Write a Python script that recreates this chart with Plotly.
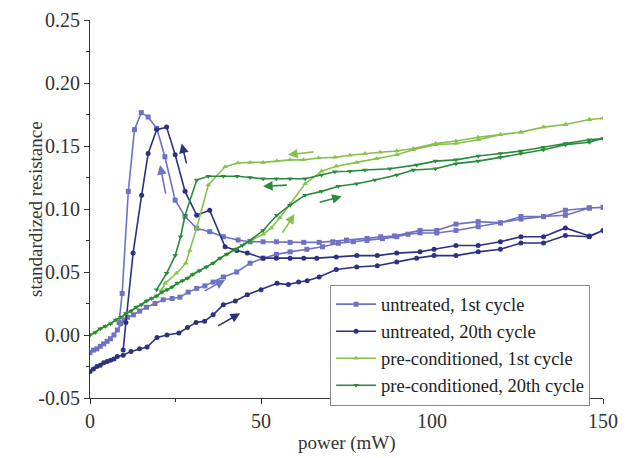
import plotly.graph_objects as go

# ---- untreated, 1st cycle: heating branch then cooling branch ----
u1_power = [0, 1, 2, 3, 4, 5, 6, 7, 8, 9, 10, 11, 12.7, 14.5, 16.5, 19, 21.4, 24, 26.3,
            28.7, 31.2, 33.6, 36, 39, 42.9, 46.8, 50.6, 54.5, 58.5, 63.4, 68, 72.6, 77,
            81, 85.5, 89.7, 93, 96.5, 101.4, 107, 113.5, 120, 126, 132.6, 139, 146, 150,
            146, 139, 132.6, 126, 120, 113.5, 107, 101.4, 96.5, 89, 85, 81, 75, 71, 67,
            62.5, 58.5, 54.5, 50.6, 46.8, 43.3, 39, 35, 31.2, 27.8, 24.9, 21.9, 19.5, 17,
            15, 13, 11.2, 9.4, 8.5]
u1_value = [-0.014, -0.012, -0.011, -0.009, -0.007, -0.005, -0.003, 0.000, 0.004, 0.009,
            0.012, 0.014, 0.016, 0.019, 0.022, 0.025, 0.028, 0.029, 0.030, 0.034, 0.037,
            0.039, 0.042, 0.046, 0.050, 0.057, 0.061, 0.064, 0.066, 0.068, 0.070, 0.0728,
            0.074, 0.075, 0.0765, 0.078, 0.080, 0.081, 0.081, 0.083, 0.086, 0.089, 0.092,
            0.094, 0.095, 0.1008, 0.1013,
            0.1008, 0.099, 0.094, 0.094, 0.089, 0.090, 0.088, 0.083, 0.083, 0.0786, 0.078,
            0.0767, 0.0754, 0.074, 0.0735, 0.0735, 0.0735, 0.074, 0.074, 0.074, 0.0754,
            0.078, 0.082, 0.0847, 0.094, 0.107, 0.1415, 0.164, 0.173, 0.1765, 0.163,
            0.114, 0.033, 0.010]

# ---- untreated, 20th cycle ----
u20_power = [0, 1, 2, 3, 4, 5, 6, 7, 8, 9.7, 12, 14.5, 16.7, 19.6, 22.5, 26, 28.5, 31,
             33.5, 36, 39, 42.5, 46, 50, 54.7, 58, 61, 63.5, 67, 72, 78, 84, 89.7, 95.5,
             100.6, 107, 113.5, 120, 126, 132.6, 139, 146, 150,
             146, 139, 132.6, 126, 120, 113.5, 107, 100.6, 96.5, 89.7, 84, 78, 72, 66.3,
             62.5, 58.5, 54.5, 50.6, 46, 42.9, 39.5, 35, 31.2, 27.8, 24.9, 22.4, 19.5, 17,
             15.1, 12.6, 10.5, 9.7]
u20_value = [-0.029, -0.027, -0.025, -0.024, -0.022, -0.021, -0.020, -0.019, -0.017,
             -0.016, -0.013, -0.011, -0.0095, -0.002, 0.000, 0.0016, 0.006, 0.010, 0.011,
             0.016, 0.024, 0.027, 0.032, 0.036, 0.041, 0.040, 0.042, 0.043, 0.046, 0.052,
             0.054, 0.055, 0.058, 0.061, 0.063, 0.063, 0.066, 0.068, 0.073, 0.073, 0.079,
             0.078, 0.083,
             0.0786, 0.085, 0.078, 0.078, 0.074, 0.071, 0.071, 0.068, 0.066, 0.065, 0.063,
             0.063, 0.062, 0.061, 0.061, 0.061, 0.061, 0.061, 0.065, 0.067, 0.070, 0.099,
             0.095, 0.114, 0.143, 0.165, 0.163, 0.144, 0.111, 0.065, 0.010, -0.012]

# ---- pre-conditioned, 1st cycle ----
p1_power = [0, 1.5, 3, 4.5, 6, 7.5, 9, 10.5, 12, 13.5, 15, 16.5, 18, 19.5, 21, 22.5, 24,
            25.5, 27, 28.5, 30, 32, 34, 36, 38, 40, 42.5, 45, 47.5, 50.7, 53, 55.5, 58.5,
            62.9, 67.7, 72, 78, 83.8, 89.7, 94.5, 101, 107, 113.5, 120, 126, 132.6, 139,
            146, 150,
            146, 139, 132.6, 126, 120, 113.5, 107, 101, 94.5, 89.7, 84.8, 80.4, 76, 71.6,
            66.8, 62.4, 58.5, 54.6, 50.6, 46.8, 43.3, 39.5, 34.6, 31.2, 29.2, 28, 25.3,
            22, 21]
p1_value = [0.000, 0.002, 0.005, 0.007, 0.009, 0.012, 0.014, 0.017, 0.019, 0.022, 0.024,
            0.027, 0.029, 0.031, 0.034, 0.036, 0.038, 0.041, 0.043, 0.045, 0.048, 0.051,
            0.054, 0.057, 0.061, 0.064, 0.068, 0.072, 0.076, 0.080, 0.085, 0.093, 0.104,
            0.120, 0.130, 0.134, 0.137, 0.140, 0.143, 0.147, 0.151, 0.152, 0.155, 0.159,
            0.161, 0.165, 0.167, 0.171, 0.172,
            0.171, 0.167, 0.165, 0.161, 0.159, 0.157, 0.154, 0.152, 0.148, 0.146, 0.145,
            0.144, 0.1426, 0.141, 0.1405, 0.139, 0.139, 0.138, 0.137, 0.137, 0.1365,
            0.1336, 0.119, 0.085, 0.067, 0.057, 0.049, 0.041, 0.036]

# ---- pre-conditioned, 20th cycle ----
p20_power = [0, 1.5, 3, 4.5, 6, 7.5, 9, 10.5, 12, 13.5, 15, 16.5, 18, 19.5, 21, 22.5, 24,
             25.5, 27, 28.5, 30, 32, 34, 36, 38, 40, 42.5, 44.5, 46.8, 50.6, 54.6, 58.5,
             62.9, 67.7, 72.6, 78, 83.3, 89.7, 94.5, 101, 107, 113.5, 120, 126, 132.6,
             139, 146, 150,
             146, 139, 132.6, 126, 120, 113.5, 107, 101, 95.5, 87.7, 80.4, 76, 71.6, 67.7,
             62.9, 58.5, 54.5, 50.6, 46.8, 43, 39, 34.6, 31.2, 27.8, 26.5, 24.9, 22.4,
             19.5]
p20_value = [0.000, 0.002, 0.005, 0.007, 0.009, 0.012, 0.014, 0.017, 0.019, 0.022, 0.024,
             0.027, 0.029, 0.031, 0.034, 0.036, 0.038, 0.041, 0.043, 0.045, 0.048, 0.051,
             0.054, 0.057, 0.061, 0.064, 0.068, 0.071, 0.075, 0.083, 0.095, 0.103, 0.111,
             0.114, 0.118, 0.120, 0.123, 0.127, 0.131, 0.132, 0.136, 0.138, 0.141, 0.144,
             0.147, 0.151, 0.153, 0.156,
             0.155, 0.152, 0.149, 0.146, 0.144, 0.142, 0.139, 0.138, 0.135, 0.132, 0.131,
             0.130, 0.1296, 0.127, 0.124, 0.124, 0.124, 0.124, 0.125, 0.126, 0.126, 0.126,
             0.123, 0.095, 0.078, 0.063, 0.049, 0.036]

names = ["untreated, 1st cycle", "untreated, 20th cycle",
         "pre-conditioned, 1st cycle", "pre-conditioned, 20th cycle"]
colors = ["#6f72c4", "#2c3180", "#86c24a", "#2a8a3c"]
symbols = ["square", "circle", "triangle-up", "triangle-down"]
series = [(u1_power, u1_value), (u20_power, u20_value),
          (p1_power, p1_value), (p20_power, p20_value)]

# axis ticks (plain hyphen for the negative label)
y_ticks = [-0.05, 0.00, 0.05, 0.10, 0.15, 0.20, 0.25]
y_ticktext = ["-0.05", "0.00", "0.05", "0.10", "0.15", "0.20", "0.25"]
x_ticks = [0, 50, 100, 150]

# direction arrows: (tail power, tail value, head power, head value, colour index)
arrows = [
    (22.2, 0.111, 20.5, 0.135, 0),
    (28.3, 0.135, 26.8, 0.152, 1),
    (65.8, 0.1455, 57.9, 0.143, 2),
    (58.0, 0.119, 50.6, 0.118, 3),
    (66.7, 0.105, 73.6, 0.110, 3),
    (56.0, 0.080, 59.8, 0.096, 2),
    (33.1, 0.0344, 39.5, 0.0437, 0),
    (37.0, 0.0066, 43.9, 0.0172, 1),
]

FONT = "Liberation Serif"
INK = "#333333"

fig = go.Figure()
for (px, pv), name, col, sym in zip(series, names, colors, symbols):
    fig.add_trace(go.Scatter(
        x=px, y=pv, name=name, mode="lines+markers",
        line=dict(color=col, width=1.6),
        marker=dict(color=col, symbol=sym, size=5),
    ))

for tx, ty, hx, hy, ci in arrows:
    fig.add_annotation(
        x=hx, y=hy, ax=tx, ay=ty, xref="x", yref="y", axref="x", ayref="y",
        text="", showarrow=True, arrowhead=2, arrowsize=1.2, arrowwidth=1.6,
        arrowcolor=colors[ci],
    )

# axis titles as free labels so the plot frame keeps its fixed margins
fig.add_annotation(
    text="standardized resistance", textangle=-90, showarrow=False,
    xref="paper", yref="paper", x=0, y=0.5, xanchor="center", yanchor="middle",
    xshift=-55, font=dict(family=FONT, size=19, color=INK),
)
fig.add_annotation(
    text="power (mW)", showarrow=False,
    xref="paper", yref="paper", x=0.5, y=0, xanchor="center", yanchor="middle",
    yshift=-45, font=dict(family=FONT, size=19, color=INK),
)

axis_common = dict(
    showline=True, linecolor=INK, linewidth=1.2, mirror=False,
    ticks="outside", ticklen=5, tickwidth=1.2, tickcolor=INK,
    showgrid=False, zeroline=False, automargin=False,
    tickfont=dict(family=FONT, size=20, color=INK),
)

fig.update_xaxes(
    range=[0, 150], tickvals=x_ticks,
    minor=dict(ticks="outside", ticklen=3, tickcolor=INK, dtick=25, tick0=0),
    **axis_common,
)
fig.update_yaxes(
    range=[-0.05, 0.25], tickvals=y_ticks, ticktext=y_ticktext,
    minor=dict(ticks="outside", ticklen=3, tickcolor=INK, dtick=0.025, tick0=0),
    **axis_common,
)

fig.update_layout(
    width=628, height=458,
    margin=dict(l=90, r=25, t=20, b=60, autoexpand=False),
    plot_bgcolor="white", paper_bgcolor="white",
    font=dict(family=FONT, color=INK),
    legend=dict(
        x=0.468, y=0.30, xanchor="left", yanchor="top",
        bgcolor="white", bordercolor="#888888", borderwidth=1,
        font=dict(family=FONT, size=18.5, color="#222222"),
        itemwidth=40, tracegroupgap=0,
    ),
    showlegend=True,
)

fig.write_html("out.html")
